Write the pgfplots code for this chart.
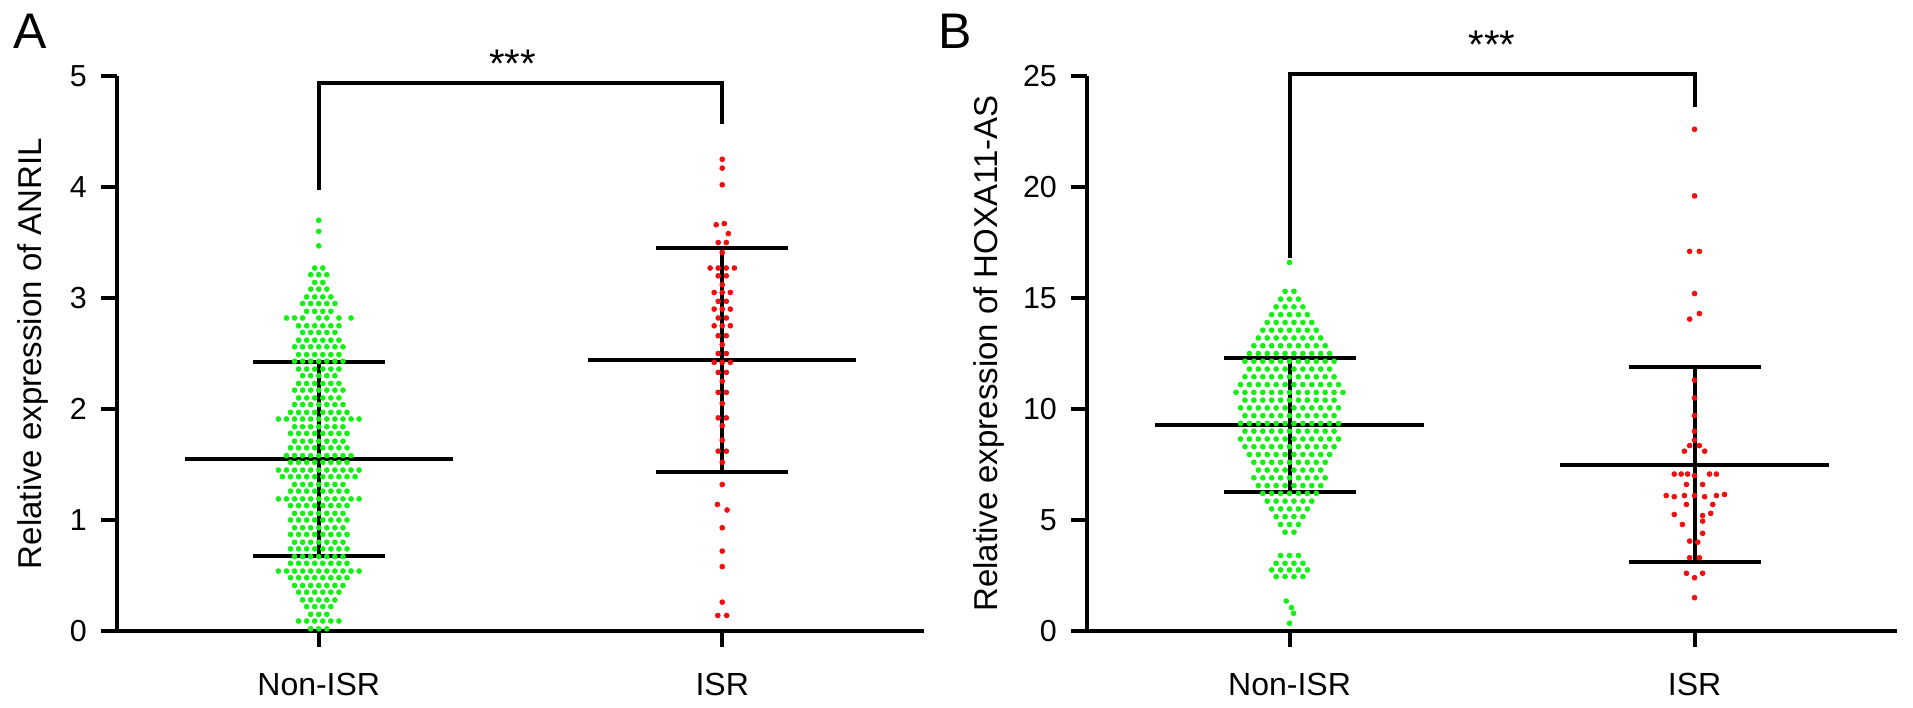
\documentclass[border=0pt]{standalone}
\usepackage{fontspec}
\setmainfont{Liberation Sans}
\usepackage{pgfplots}
\pgfplotsset{compat=1.18}
\definecolor{dotgreen}{RGB}{20,240,20}
\definecolor{dotred}{RGB}{240,15,15}
\pgfplotsset{
  swarm/.style={
    scale only axis, height=138.75pt,
    xmin=-0.5, xmax=1.5, ymin=0,
    axis x line=bottom, axis y line=left,
    axis line style={-, line width=1pt},
    xtick={0,1}, xticklabels={Non-ISR,ISR},
    tick align=outside, major tick length=4pt,
    tick style={line width=1pt, black},
    /pgf/number format/assume math mode=true,
    yticklabel style={font=\fontsize{7.6}{8}\selectfont},
    xticklabel style={font=\fontsize{8}{9}\selectfont, yshift=-3pt},
    ylabel style={font=\fontsize{8.25}{9}\selectfont, anchor=base, inner sep=0pt},
    clip=false, enlargelimits=false,
  },
  gdots/.style={only marks, mark=*, color=dotgreen, mark size=0.6pt, mark options={fill=dotgreen, draw=dotgreen, line width=0.2pt}},
  rdots/.style={only marks, mark=*, color=dotred, mark size=0.6pt, mark options={fill=dotred, draw=dotred, line width=0.2pt}},
  bar/.style={black, line width=1pt, no marks},
}
\begin{document}
\begin{tikzpicture}
\path[use as bounding box] (0,0) rectangle (478.25pt,176.75pt);
\node[anchor=base west, inner sep=0pt, font=\fontsize{12.5}{14}\selectfont] at (3.25pt,164.5pt) {A};
\node[anchor=base west, inner sep=0pt, font=\fontsize{12.5}{14}\selectfont] at (234.5pt,164.5pt) {B};
% ---------------- Panel A ----------------
\begin{axis}[swarm, at={(29.25pt,19pt)}, anchor=south west, width=201.75pt,
  ymax=5, ytick={0,1,2,3,4,5},
  ylabel={Relative expression of ANRIL},
  ylabel style={at={(axis description cs:-0.093,0.5)}}]
\addplot[gdots] coordinates {
(-.02,.02)(0,.02)(.02,.02)
(-.05,.09)(-.03,.09)(-.01,.09)(.01,.09)(.03,.09)(.05,.09)
(-.02,.15)(0,.15)(.02,.15)
(-.03,.22)(-.01,.22)(.01,.22)(.03,.22)
(-.04,.28)(-.02,.28)(0,.28)(.02,.28)(.04,.28)
(-.05,.35)(-.03,.35)(-.01,.35)(.01,.35)(.03,.35)(.05,.35)
(-.06,.41)(-.04,.41)(-.02,.41)(0,.41)(.02,.41)(.04,.41)(.06,.41)
(-.07,.48)(-.05,.48)(-.03,.48)(-.01,.48)(.01,.48)(.03,.48)(.05,.48)(.07,.48)
(-.1,.54)(-.08,.54)(-.06,.54)(-.04,.54)(-.02,.54)(0,.54)(.02,.54)(.04,.54)(.06,.54)(.08,.54)(.1,.54)
(-.07,.61)(-.05,.61)(-.03,.61)(-.01,.61)(.01,.61)(.03,.61)(.05,.61)(.07,.61)
(-.06,.67)(-.04,.67)(-.02,.67)(0,.67)(.02,.67)(.04,.67)(.06,.67)
(-.07,.74)(-.05,.74)(-.03,.74)(-.01,.74)(.01,.74)(.03,.74)(.05,.74)(.07,.74)
(-.06,.80)(-.04,.80)(-.02,.80)(0,.80)(.02,.80)(.04,.80)(.06,.80)
(-.07,.87)(-.05,.87)(-.03,.87)(-.01,.87)(.01,.87)(.03,.87)(.05,.87)(.07,.87)
(-.06,.93)(-.04,.93)(-.02,.93)(0,.93)(.02,.93)(.04,.93)(.06,.93)
(-.07,1.00)(-.05,1.00)(-.03,1.00)(-.01,1.00)(.01,1.00)(.03,1.00)(.05,1.00)(.07,1.00)
(-.06,1.06)(-.04,1.06)(-.02,1.06)(0,1.06)(.02,1.06)(.04,1.06)(.06,1.06)
(-.07,1.13)(-.05,1.13)(-.03,1.13)(-.01,1.13)(.01,1.13)(.03,1.13)(.05,1.13)(.07,1.13)
(-.1,1.19)(-.08,1.19)(-.06,1.19)(-.04,1.19)(-.02,1.19)(0,1.19)(.02,1.19)(.04,1.19)(.06,1.19)(.08,1.19)(.1,1.19)
(-.07,1.26)(-.05,1.26)(-.03,1.26)(-.01,1.26)(.01,1.26)(.03,1.26)(.05,1.26)(.07,1.26)
(-.06,1.32)(-.04,1.32)(-.02,1.32)(0,1.32)(.02,1.32)(.04,1.32)(.06,1.32)
(-.09,1.39)(-.07,1.39)(-.05,1.39)(-.03,1.39)(-.01,1.39)(.01,1.39)(.03,1.39)(.05,1.39)(.07,1.39)(.09,1.39)
(-.1,1.45)(-.08,1.45)(-.06,1.45)(-.04,1.45)(-.02,1.45)(0,1.45)(.02,1.45)(.04,1.45)(.06,1.45)(.08,1.45)(.1,1.45)
(-.07,1.52)(-.05,1.52)(-.03,1.52)(-.01,1.52)(.01,1.52)(.03,1.52)(.05,1.52)(.07,1.52)
(-.08,1.58)(-.06,1.58)(-.04,1.58)(-.02,1.58)(0,1.58)(.02,1.58)(.04,1.58)(.06,1.58)(.08,1.58)
(-.07,1.65)(-.05,1.65)(-.03,1.65)(-.01,1.65)(.01,1.65)(.03,1.65)(.05,1.65)(.07,1.65)
(-.06,1.71)(-.04,1.71)(-.02,1.71)(0,1.71)(.02,1.71)(.04,1.71)(.06,1.71)
(-.07,1.78)(-.05,1.78)(-.03,1.78)(-.01,1.78)(.01,1.78)(.03,1.78)(.05,1.78)(.07,1.78)
(-.06,1.84)(-.04,1.84)(-.02,1.84)(0,1.84)(.02,1.84)(.04,1.84)(.06,1.84)
(-.1,1.91)(-.08,1.91)(-.06,1.91)(-.04,1.91)(-.02,1.91)(0,1.91)(.02,1.91)(.04,1.91)(.06,1.91)(.08,1.91)(.1,1.91)
(-.07,1.97)(-.05,1.97)(-.03,1.97)(-.01,1.97)(.01,1.97)(.03,1.97)(.05,1.97)(.07,1.97)
(-.06,2.04)(-.04,2.04)(-.02,2.04)(0,2.04)(.02,2.04)(.04,2.04)(.06,2.04)
(-.05,2.10)(-.03,2.10)(-.01,2.10)(.01,2.10)(.03,2.10)(.05,2.10)
(-.06,2.17)(-.04,2.17)(-.02,2.17)(0,2.17)(.02,2.17)(.04,2.17)(.06,2.17)
(-.05,2.23)(-.03,2.23)(-.01,2.23)(.01,2.23)(.03,2.23)(.05,2.23)
(-.04,2.30)(-.02,2.30)(0,2.30)(.02,2.30)(.04,2.30)
(-.05,2.36)(-.03,2.36)(-.01,2.36)(.01,2.36)(.03,2.36)(.05,2.36)
(-.06,2.43)(-.04,2.43)(-.02,2.43)(0,2.43)(.02,2.43)(.04,2.43)(.06,2.43)
(-.05,2.49)(-.03,2.49)(-.01,2.49)(.01,2.49)(.03,2.49)(.05,2.49)
(-.06,2.56)(-.04,2.56)(-.02,2.56)(0,2.56)(.02,2.56)(.04,2.56)(.06,2.56)
(-.05,2.62)(-.03,2.62)(-.01,2.62)(.01,2.62)(.03,2.62)(.05,2.62)
(-.04,2.69)(-.02,2.69)(0,2.69)(.02,2.69)(.04,2.69)
(-.05,2.75)(-.03,2.75)(-.01,2.75)(.01,2.75)(.03,2.75)(.05,2.75)
(-.08,2.82)(-.06,2.82)(-.04,2.82)(0,2.82)(.02,2.82)(.05,2.82)(.08,2.82)
(-.03,2.88)(-.01,2.88)(.01,2.88)(.03,2.88)
(-.04,2.95)(-.02,2.95)(0,2.95)(.02,2.95)(.04,2.95)
(-.03,3.01)(-.01,3.01)(.01,3.01)(.03,3.01)
(-.02,3.08)(0,3.08)(.02,3.08)
(-.01,3.14)(.01,3.14)
(-.02,3.21)(0,3.21)(.02,3.21)
(-.01,3.27)(.01,3.27)
(0,3.47)(0,3.60)(0,3.70)
};
\addplot[rdots] coordinates {
(1,4.25)(1,4.17)(1,4.02)
(.985,3.66)(1.005,3.67)(1.015,3.58)
(.99,3.50)(1.01,3.50)(1,3.41)
(.97,3.27)(.99,3.27)(1.01,3.27)(1.03,3.27)
(.99,3.20)(1.01,3.20)(1,3.12)
(.98,3.05)(1,3.05)(1.02,3.05)
(.99,2.97)(1.01,2.97)
(.98,2.90)(1,2.90)(1.02,2.90)
(.99,2.82)(1.01,2.82)
(.98,2.75)(1,2.75)(1.02,2.75)
(.99,2.66)(1.01,2.66)(1,2.58)
(.99,2.50)(1.01,2.50)
(.98,2.42)(1,2.42)(1.02,2.42)
(.99,2.33)(1.01,2.33)(1,2.25)
(.99,2.15)(1.01,2.15)(1,2.05)
(.99,1.92)(1.01,1.92)(1,1.85)(1,1.72)
(.99,1.62)(1.01,1.62)(1,1.52)
(1,1.32)(.988,1.14)(1.012,1.09)(1,.93)(1,.72)(1,.58)(1,.26)(.989,.14)(1.011,.14)
};
% mean and SD
\addplot[bar] coordinates {(-0.332,1.55)(0.332,1.55)};
\addplot[bar] coordinates {(-0.163,2.42)(0.163,2.42)};
\addplot[bar] coordinates {(-0.163,0.68)(0.163,0.68)};
\addplot[bar] coordinates {(0,0.68)(0,2.42)};
\addplot[bar] coordinates {(0.668,2.44)(1.332,2.44)};
\addplot[bar] coordinates {(0.837,3.45)(1.163,3.45)};
\addplot[bar] coordinates {(0.837,1.43)(1.163,1.43)};
\addplot[bar] coordinates {(1,1.43)(1,3.45)};
% significance bracket
\addplot[bar] coordinates {(0,3.97)(0,4.94)(1,4.94)(1,4.57)};
\node[anchor=base, inner sep=0pt, font=\fontsize{10}{12}\selectfont] at (axis cs:0.48,4.99) {***};
\end{axis}
% ---------------- Panel B ----------------
\begin{axis}[swarm, at={(271.75pt,19pt)}, anchor=south west, width=202.5pt,
  ymax=25, ytick={0,5,10,15,20,25},
  ylabel={Relative expression of HOXA11-AS},
  ylabel style={at={(axis description cs:-0.110,0.5)}}]
\addplot[gdots] coordinates {
(0,0.35)(.01,0.8)(.005,1.05)(-.008,1.35)
(-.033,2.45)(-.011,2.45)(.011,2.45)(.033,2.45)
(-.044,2.75)(-.022,2.75)(0,2.75)(.022,2.75)(.044,2.75)
(-.033,3.05)(-.011,3.05)(.011,3.05)(.033,3.05)
(-.022,3.4)(0,3.4)(.022,3.4)
(-.011,4.45)(.011,4.45)
(-.022,4.8)(0,4.8)(.022,4.8)
(-.033,5.15)(-.011,5.15)(.011,5.15)(.033,5.15)
(-.044,5.5)(-.022,5.5)(0,5.5)(.022,5.5)(.044,5.5)
(-.055,5.85)(-.033,5.85)(-.011,5.85)(.011,5.85)(.033,5.85)(.055,5.85)
(-.066,6.2)(-.044,6.2)(-.022,6.2)(0,6.2)(.022,6.2)(.044,6.2)(.066,6.2)
(-.077,6.55)(-.055,6.55)(-.033,6.55)(-.011,6.55)(.011,6.55)(.033,6.55)(.055,6.55)(.077,6.55)
(-.088,6.9)(-.066,6.9)(-.044,6.9)(-.022,6.9)(0,6.9)(.022,6.9)(.044,6.9)(.066,6.9)(.088,6.9)
(-.077,7.25)(-.055,7.25)(-.033,7.25)(-.011,7.25)(.011,7.25)(.033,7.25)(.055,7.25)(.077,7.25)
(-.088,7.6)(-.066,7.6)(-.044,7.6)(-.022,7.6)(0,7.6)(.022,7.6)(.044,7.6)(.066,7.6)(.088,7.6)
(-.099,7.95)(-.077,7.95)(-.055,7.95)(-.033,7.95)(-.011,7.95)(.011,7.95)(.033,7.95)(.055,7.95)(.077,7.95)(.099,7.95)
(-.11,8.3)(-.088,8.3)(-.066,8.3)(-.044,8.3)(-.022,8.3)(0,8.3)(.022,8.3)(.044,8.3)(.066,8.3)(.088,8.3)(.11,8.3)
(-.121,8.65)(-.099,8.65)(-.077,8.65)(-.055,8.65)(-.033,8.65)(-.011,8.65)(.011,8.65)(.033,8.65)(.055,8.65)(.077,8.65)(.099,8.65)(.121,8.65)
(-.11,9.0)(-.088,9.0)(-.066,9.0)(-.044,9.0)(-.022,9.0)(0,9.0)(.022,9.0)(.044,9.0)(.066,9.0)(.088,9.0)(.11,9.0)
(-.121,9.35)(-.099,9.35)(-.077,9.35)(-.055,9.35)(-.033,9.35)(-.011,9.35)(.011,9.35)(.033,9.35)(.055,9.35)(.077,9.35)(.099,9.35)(.121,9.35)
(-.11,9.7)(-.088,9.7)(-.066,9.7)(-.044,9.7)(-.022,9.7)(0,9.7)(.022,9.7)(.044,9.7)(.066,9.7)(.088,9.7)(.11,9.7)
(-.121,10.05)(-.099,10.05)(-.077,10.05)(-.055,10.05)(-.033,10.05)(-.011,10.05)(.011,10.05)(.033,10.05)(.055,10.05)(.077,10.05)(.099,10.05)(.121,10.05)
(-.11,10.4)(-.088,10.4)(-.066,10.4)(-.044,10.4)(-.022,10.4)(0,10.4)(.022,10.4)(.044,10.4)(.066,10.4)(.088,10.4)(.11,10.4)
(-.132,10.75)(-.11,10.75)(-.088,10.75)(-.066,10.75)(-.044,10.75)(-.022,10.75)(0,10.75)(.022,10.75)(.044,10.75)(.066,10.75)(.088,10.75)(.11,10.75)(.132,10.75)
(-.121,11.1)(-.099,11.1)(-.077,11.1)(-.055,11.1)(-.033,11.1)(-.011,11.1)(.011,11.1)(.033,11.1)(.055,11.1)(.077,11.1)(.099,11.1)(.121,11.1)
(-.11,11.45)(-.088,11.45)(-.066,11.45)(-.044,11.45)(-.022,11.45)(0,11.45)(.022,11.45)(.044,11.45)(.066,11.45)(.088,11.45)(.11,11.45)
(-.099,11.8)(-.077,11.8)(-.055,11.8)(-.033,11.8)(-.011,11.8)(.011,11.8)(.033,11.8)(.055,11.8)(.077,11.8)(.099,11.8)
(-.11,12.15)(-.088,12.15)(-.066,12.15)(-.044,12.15)(-.022,12.15)(0,12.15)(.022,12.15)(.044,12.15)(.066,12.15)(.088,12.15)(.11,12.15)
(-.099,12.5)(-.077,12.5)(-.055,12.5)(-.033,12.5)(-.011,12.5)(.011,12.5)(.033,12.5)(.055,12.5)(.077,12.5)(.099,12.5)
(-.088,12.85)(-.066,12.85)(-.044,12.85)(-.022,12.85)(0,12.85)(.022,12.85)(.044,12.85)(.066,12.85)(.088,12.85)
(-.077,13.2)(-.055,13.2)(-.033,13.2)(-.011,13.2)(.011,13.2)(.033,13.2)(.055,13.2)(.077,13.2)
(-.066,13.55)(-.044,13.55)(-.022,13.55)(0,13.55)(.022,13.55)(.044,13.55)(.066,13.55)
(-.055,13.9)(-.033,13.9)(-.011,13.9)(.011,13.9)(.033,13.9)(.055,13.9)
(-.044,14.25)(-.022,14.25)(0,14.25)(.022,14.25)(.044,14.25)
(-.033,14.6)(-.011,14.6)(.011,14.6)(.033,14.6)
(-.022,14.95)(0,14.95)(.022,14.95)
(-.011,15.3)(.011,15.3)
(0,16.6)
};
\addplot[rdots] coordinates {
(1,22.6)(1,19.6)(.988,17.1)(1.012,17.1)(1,15.2)(1.012,14.3)(.988,14.05)
(1,11.3)(1,10.5)(1,9.7)(1,9.0)
(1,8.6)(.988,8.35)(1.012,8.35)(.975,8.1)(1.025,8.1)
(.95,7.07)(.967,7.07)(.983,7.07)(1,7.0)(1.037,7.07)(1.054,7.07)
(.98,6.6)(1.02,6.6)
(.93,6.1)(.95,6.05)(.975,6.1)(1,6.1)(1.025,6.05)(1.054,6.1)(1.074,6.15)
(.98,5.7)(1.045,5.7)
(.95,5.25)(1.02,5.2)(1.04,5.3)
(.97,4.8)(1.02,4.95)
(1.02,4.4)
(.988,4.05)(1.008,4.0)
(.988,3.3)(1.012,3.3)
(.98,2.6)(1.02,2.6)(1,2.4)
(1,1.5)
};
\addplot[bar] coordinates {(-0.332,9.3)(0.332,9.3)};
\addplot[bar] coordinates {(-0.163,12.3)(0.163,12.3)};
\addplot[bar] coordinates {(-0.163,6.25)(0.163,6.25)};
\addplot[bar] coordinates {(0,6.25)(0,12.3)};
\addplot[bar] coordinates {(0.668,7.5)(1.332,7.5)};
\addplot[bar] coordinates {(0.837,11.9)(1.163,11.9)};
\addplot[bar] coordinates {(0.837,3.1)(1.163,3.1)};
\addplot[bar] coordinates {(1,3.1)(1,11.9)};
\addplot[bar] coordinates {(0,16.8)(0,25.1)(1,25.1)(1,23.6)};
\node[anchor=base, inner sep=0pt, font=\fontsize{10}{12}\selectfont] at (axis cs:0.5,25.8) {***};
\end{axis}
\end{tikzpicture}
\end{document}
